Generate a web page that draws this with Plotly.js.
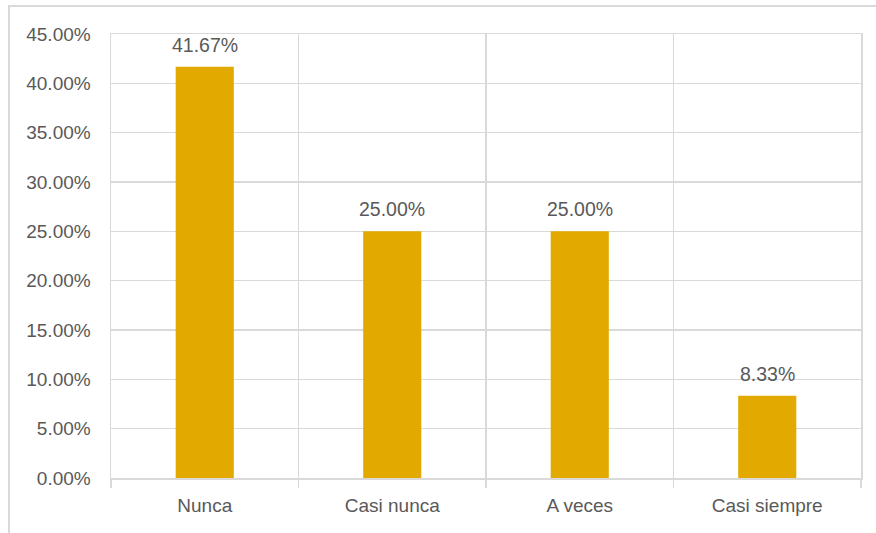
<!DOCTYPE html>
<html>
<head>
<meta charset="utf-8">
<script src="https://cdn.plot.ly/plotly-3.0.1.min.js"></script>
<style>html,body{margin:0;padding:0;background:#fff;}#chart{width:876px;height:533px;}</style>
</head>
<body>
<div id="chart"></div>
<script>
const categories = ["Nunca", "Casi nunca", "A veces", "Casi siempre"];
const values = [0.4167, 0.25, 0.25, 0.0833];
const labels = ["41.67%", "25.00%", "25.00%", "8.33%"];

const fontFam = "Liberation Sans, Arial, sans-serif";
const gridColor = "#d9d9d9";
const textColor = "#595959";

const trace = {
  type: "bar",
  x: categories,
  y: values,
  width: 0.31,
  marker: {color: "#E2AA00", line: {width: 0}},
  hoverinfo: "skip"
};

const annotations = categories.map((c, i) => ({
  x: c, y: values[i], xref: "x", yref: "y",
  text: labels[i], showarrow: false,
  yanchor: "bottom", yshift: 9,
  font: {family: fontFam, size: 19.5, color: textColor}
}));

const layout = {
  width: 876, height: 533,
  margin: {l: 111, r: 15, t: 34, b: 55, pad: 0},
  paper_bgcolor: "#fff", plot_bgcolor: "#fff",
  showlegend: false,
  bargap: 0.69,
  font: {family: fontFam, size: 19, color: textColor},
  xaxis: {
    type: "category",
    tickson: "boundaries",
    showgrid: true, gridcolor: gridColor, gridwidth: 1.5,
    ticks: "outside", ticklen: 8, tickcolor: gridColor, tickwidth: 1.5,
    showline: true, linecolor: gridColor, linewidth: 1.5, mirror: true,
    ticklabelstandoff: 10,
    tickfont: {family: fontFam, size: 19, color: textColor},
    fixedrange: true
  },
  yaxis: {
    range: [0, 0.45],
    dtick: 0.05,
    tickformat: ".2%",
    showgrid: true, gridcolor: gridColor, gridwidth: 1.5,
    zeroline: false,
    showline: true, linecolor: gridColor, linewidth: 1.5, mirror: true,
    ticks: "", ticklabelstandoff: 15,
    tickfont: {family: fontFam, size: 19, color: textColor},
    fixedrange: true
  },
  annotations: annotations,
  shapes: [{
    type: "rect", xref: "paper", yref: "paper",
    x0: -0.136, x1: 1.03, y0: -0.16, y1: 1.063,
    line: {color: gridColor, width: 2}, fillcolor: "rgba(0,0,0,0)", layer: "below"
  }]
};

Plotly.newPlot("chart", [trace], layout, {displayModeBar: false, staticPlot: true});
</script>
</body>
</html>
